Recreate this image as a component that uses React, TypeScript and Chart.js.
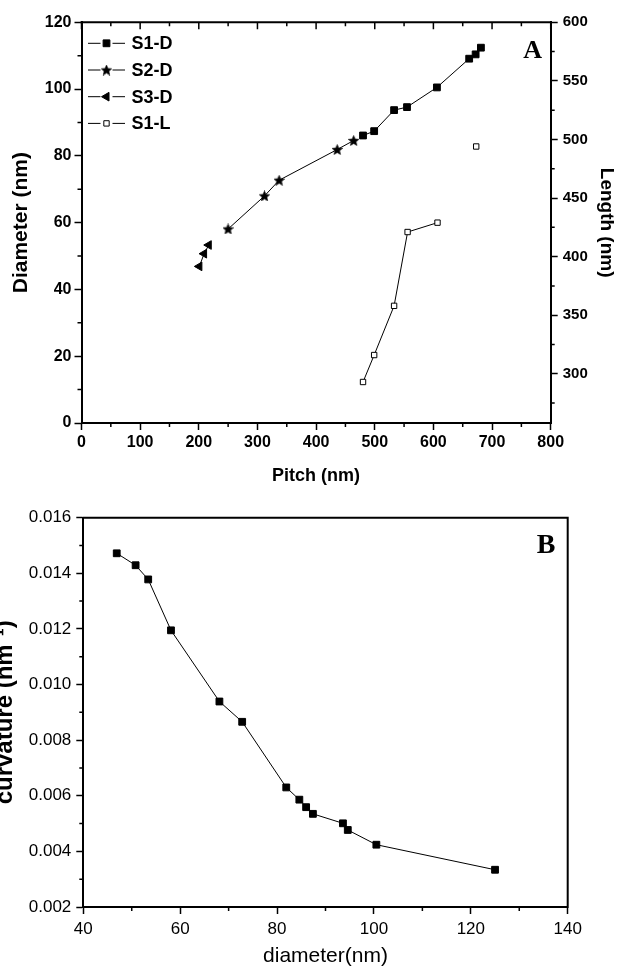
import React, { useEffect, useRef } from 'react';
import { Chart, registerables } from 'chart.js';
import { drawPoint } from 'chart.js/helpers';

Chart.register(...registerables);

const SANS = "'Liberation Sans', Arial, Helvetica, sans-serif";
const SERIF = "'Liberation Serif', 'Times New Roman', serif";

// ---------- Panel A ----------
const pitchS1D = [480, 499, 533, 555, 606, 661, 672, 681];
const diameterS1D = [86.1, 87.4, 93.7, 94.6, 100.5, 109.1, 110.4, 112.4];
const pitchS2D = [250, 312, 337, 436, 464];
const diameterS2D = [58.1, 68.0, 72.7, 81.9, 84.6];
const pitchS3D = [201, 209, 217];
const diameterS3D = [46.9, 50.7, 53.3];
const pitchS1L = [480, 499, 533, 556, 607, 673];
const lengthS1L = [293, 316, 358, 421, 429, 494];

const pitchTicks = [0, 100, 200, 300, 400, 500, 600, 700, 800];
const pitchMinorTicks = [50, 150, 250, 350, 450, 550, 650, 750];
const diameterTicks = [0, 20, 40, 60, 80, 100, 120];
const diameterMinorTicks = [10, 30, 50, 70, 90, 110];
const lengthTicks = [300, 350, 400, 450, 500, 550, 600];
const lengthMinorTicks = [275, 325, 375, 425, 475, 525, 575];

// ---------- Panel B ----------
const diameterB = [46.9, 50.8, 53.4, 58.1, 68.1, 72.8, 81.9, 84.6, 86.0, 87.4, 93.6, 94.6, 100.5, 125.0];
const curvatureB = [0.01472, 0.01429, 0.01378, 0.01195, 0.00939, 0.00866, 0.0063, 0.00586, 0.00559, 0.00535, 0.00501, 0.00477, 0.00424, 0.00334];
const diameterBTicks = [40, 60, 80, 100, 120, 140];
const diameterBMinorTicks = [50, 70, 90, 110, 130];
const curvatureTicks = [0.002, 0.004, 0.006, 0.008, 0.010, 0.012, 0.014, 0.016];
const curvatureMinorTicks = [0.003, 0.005, 0.007, 0.009, 0.011, 0.013, 0.015];

const toPoints = (xs: number[], ys: number[]) => xs.map((x, i) => ({ x, y: ys[i] }));

function makeStar(size: number) {
  const c = document.createElement('canvas');
  c.width = size;
  c.height = size;
  const g = c.getContext('2d')!;
  const cx = size / 2, cy = size / 2 + 0.5, R = size / 2, r = R * 0.45;
  g.beginPath();
  for (let k = 0; k < 10; k++) {
    const ang = -Math.PI / 2 + (k * Math.PI) / 5;
    const rad = k % 2 === 0 ? R : r;
    const px = cx + rad * Math.cos(ang), py = cy + rad * Math.sin(ang);
    if (k === 0) g.moveTo(px, py); else g.lineTo(px, py);
  }
  g.closePath();
  g.fillStyle = '#000';
  g.fill();
  g.strokeStyle = '#000';
  g.lineWidth = 0.6;
  g.stroke();
  return c;
}

type Mark = { scale: string; values: number[]; edge: 'left' | 'right' | 'top' | 'bottom'; len: number };
type DecorCfg = {
  frameTop?: boolean;
  frameRight?: boolean;
  marks: Mark[];
  label?: { text: string; font: string; dx: number; dy: number };
  legend?: boolean;
};

function makeDecor(cfg: DecorCfg) {
  return {
    id: 'decor',
    afterDatasetsDraw(chart: any) {
      const { ctx, chartArea: a, scales } = chart;
      ctx.save();
      ctx.strokeStyle = '#000';
      ctx.lineWidth = 2;
      ctx.beginPath();
      if (cfg.frameTop) { ctx.moveTo(a.left - 1, a.top); ctx.lineTo(a.right + 1, a.top); }
      if (cfg.frameRight) { ctx.moveTo(a.right, a.top - 1); ctx.lineTo(a.right, a.bottom + 1); }
      ctx.stroke();
      ctx.lineWidth = 1.5;
      for (const m of cfg.marks) {
        const s = scales[m.scale];
        ctx.beginPath();
        for (const v of m.values) {
          const p = s.getPixelForValue(v);
          if (m.edge === 'left') { ctx.moveTo(a.left, p); ctx.lineTo(a.left - m.len, p); }
          else if (m.edge === 'right') { ctx.moveTo(a.right, p); ctx.lineTo(a.right + m.len, p); }
          else if (m.edge === 'bottom') { ctx.moveTo(p, a.bottom); ctx.lineTo(p, a.bottom + m.len); }
          else { ctx.moveTo(p, a.top); ctx.lineTo(p, a.top + m.len); }
        }
        ctx.stroke();
      }
      if (cfg.label) {
        ctx.fillStyle = '#000';
        ctx.font = cfg.label.font;
        ctx.textAlign = 'center';
        ctx.textBaseline = 'middle';
        ctx.fillText(cfg.label.text, a.right - cfg.label.dx, a.top + cfg.label.dy);
      }
      if (cfg.legend) {
        chart.data.datasets.forEach((ds: any, i: number) => {
          const y = a.top + 21 + i * 26.7;
          const x0 = a.left + 6.5, xm = a.left + 25, x1 = a.left + 43.5;
          ctx.strokeStyle = '#000';
          ctx.lineWidth = 1;
          ctx.beginPath();
          ctx.moveTo(x0, y); ctx.lineTo(xm - 6, y);
          ctx.moveTo(xm + 6, y); ctx.lineTo(x1, y);
          ctx.stroke();
          ctx.fillStyle = ds.pointBackgroundColor ?? '#000';
          ctx.strokeStyle = '#000';
          ctx.lineWidth = ds.pointBorderWidth ?? 1;
          drawPoint(ctx, {
            pointStyle: ds.pointStyle,
            radius: ds.pointRadius,
            rotation: ds.pointRotation ?? 0,
            borderWidth: ds.pointBorderWidth ?? 1,
          } as any, xm, y);
          ctx.fillStyle = '#000';
          ctx.font = `bold 18px ${SANS}`;
          ctx.textAlign = 'left';
          ctx.textBaseline = 'middle';
          ctx.fillText(ds.label, a.left + 50, y + 1);
        });
      }
      ctx.restore();
    },
  };
}

const tickList = (vals: number[]) => (s: any) => { s.ticks = vals.map((v) => ({ value: v })); };

export default function App() {
  const refA = useRef<HTMLCanvasElement>(null);
  const refB = useRef<HTMLCanvasElement>(null);

  useEffect(() => {
    const star = makeStar(11);
    const boldTick = { family: SANS, size: 16, weight: 'bold' as const };
    const axisGrid = { drawOnChartArea: false, tickLength: 7, tickWidth: 1.5, tickColor: '#000' };
    const axisBorder = { color: '#000', width: 2 };

    const chartA = new Chart(refA.current!, {
      type: 'scatter',
      data: {
        datasets: [
          {
            label: 'S1-D', data: toPoints(pitchS1D, diameterS1D), yAxisID: 'y', showLine: true,
            borderColor: '#000', borderWidth: 1, pointStyle: 'rect', pointRadius: 4.8,
            pointBackgroundColor: '#000', pointBorderColor: '#000', pointBorderWidth: 1,
          },
          {
            label: 'S2-D', data: toPoints(pitchS2D, diameterS2D), yAxisID: 'y', showLine: true,
            borderColor: '#000', borderWidth: 1, pointStyle: star as any, pointRadius: 5,
            pointBackgroundColor: '#000', pointBorderColor: '#000', pointBorderWidth: 1,
          },
          {
            label: 'S3-D', data: toPoints(pitchS3D, diameterS3D), yAxisID: 'y', showLine: true,
            borderColor: '#000', borderWidth: 1, pointStyle: 'triangle', pointRotation: -90, pointRadius: 5,
            pointBackgroundColor: '#000', pointBorderColor: '#000', pointBorderWidth: 1,
          },
          {
            label: 'S1-L', data: toPoints(pitchS1L, lengthS1L), yAxisID: 'y2', showLine: true,
            borderColor: '#000', borderWidth: 1, pointStyle: 'rect', pointRadius: 3.8,
            pointBackgroundColor: '#fff', pointBorderColor: '#000', pointBorderWidth: 1,
            segment: {
              borderColor: (c: any) => (c.p1DataIndex === lengthS1L.length - 1 ? 'rgba(0,0,0,0)' : '#000'),
            },
          },
        ] as any,
      },
      options: {
        animation: false,
        responsive: false,
        events: [],
        layout: { padding: { top: 22.3, left: 0, right: 0, bottom: 0 } },
        plugins: { legend: { display: false }, tooltip: { enabled: false } },
        scales: {
          x: {
            type: 'linear', position: 'bottom', min: 0, max: 800,
            afterBuildTicks: tickList(pitchTicks),
            afterFit: (s: any) => { s.height = 67; },
            ticks: { font: boldTick, color: '#000', padding: 3, maxRotation: 0, autoSkip: false },
            grid: axisGrid, border: axisBorder,
            title: { display: true, text: 'Pitch (nm)', color: '#000', font: { family: SANS, size: 18, weight: 'bold' }, padding: { top: 0, bottom: 3 } },
          },
          y: {
            type: 'linear', position: 'left', min: 0, max: 120,
            afterBuildTicks: tickList(diameterTicks),
            afterFit: (s: any) => { s.width = 81.5; },
            ticks: { font: boldTick, color: '#000', padding: 3, autoSkip: false },
            grid: axisGrid, border: axisBorder,
            title: { display: true, text: 'Diameter (nm)', color: '#000', font: { family: SANS, size: 21, weight: 'bold' }, padding: { top: 9, bottom: 0 } },
          },
          y2: {
            type: 'linear', position: 'right', min: 258, max: 600,
            afterBuildTicks: tickList(lengthTicks),
            afterFit: (s: any) => { s.width = 67.3; },
            ticks: { font: { family: SANS, size: 15, weight: 'bold' }, color: '#000', padding: 5, autoSkip: false },
            grid: axisGrid, border: axisBorder,
            title: { display: true, text: 'Length (nm)', color: '#000', font: { family: SANS, size: 19, weight: 'bold' }, padding: { top: 0, bottom: 0 } },
          },
        },
      } as any,
      plugins: [
        makeDecor({
          frameTop: true,
          marks: [
            { scale: 'x', values: pitchMinorTicks, edge: 'bottom', len: 4 },
            { scale: 'x', values: pitchTicks, edge: 'top', len: 7 },
            { scale: 'x', values: pitchMinorTicks, edge: 'top', len: 4 },
            { scale: 'y', values: diameterMinorTicks, edge: 'left', len: 4 },
            { scale: 'y2', values: lengthMinorTicks, edge: 'right', len: 4 },
          ],
          label: { text: 'A', font: `bold 26px ${SERIF}`, dx: 18, dy: 29 },
          legend: true,
        }) as any,
      ],
    });

    const regTick = { family: SANS, size: 17 };
    const chartB = new Chart(refB.current!, {
      type: 'scatter',
      data: {
        datasets: [
          {
            label: 'curvature', data: toPoints(diameterB, curvatureB), showLine: true,
            borderColor: '#000', borderWidth: 1, pointStyle: 'rect', pointRadius: 4.8,
            pointBackgroundColor: '#000', pointBorderColor: '#000', pointBorderWidth: 1,
          },
        ] as any,
      },
      options: {
        animation: false,
        responsive: false,
        events: [],
        layout: { padding: { top: 27.7, left: 0, right: 50.3, bottom: 0 } },
        plugins: { legend: { display: false }, tooltip: { enabled: false } },
        scales: {
          x: {
            type: 'linear', position: 'bottom', min: 40, max: 140,
            afterBuildTicks: tickList(diameterBTicks),
            afterFit: (s: any) => { s.height = 68; },
            ticks: { font: regTick, color: '#000', padding: 5, maxRotation: 0, autoSkip: false },
            grid: axisGrid, border: axisBorder,
            title: { display: true, text: 'diameter(nm)', color: '#000', font: { family: SANS, size: 21 }, padding: { top: 0, bottom: 6 } },
          },
          y: {
            type: 'linear', position: 'left', min: 0.002, max: 0.016,
            afterBuildTicks: tickList(curvatureTicks),
            afterFit: (s: any) => { s.width = 96.3; },
            ticks: { font: regTick, color: '#000', padding: 5, autoSkip: false, callback: (v: any) => Number(v).toFixed(3) },
            grid: axisGrid, border: axisBorder,
            title: { display: true, text: 'curvature (nm\u207B\u00B9)', color: '#000', font: { family: SANS, size: 24, weight: 'bold' }, padding: { top: 4, bottom: 0 } },
          },
        },
      } as any,
      plugins: [
        makeDecor({
          frameTop: true,
          frameRight: true,
          marks: [
            { scale: 'x', values: diameterBMinorTicks, edge: 'bottom', len: 4 },
            { scale: 'y', values: curvatureMinorTicks, edge: 'left', len: 4 },
          ],
          label: { text: 'B', font: `bold 28px ${SERIF}`, dx: 21.7, dy: 28.3 },
        }) as any,
      ],
    });

    return () => {
      chartA.destroy();
      chartB.destroy();
    };
  }, []);

  return (
    <div style={{ position: 'absolute', left: 0, top: 0, width: 618, height: 975, background: '#fff', overflow: 'hidden' }}>
      <canvas ref={refA} width={618} height={490} style={{ position: 'absolute', left: 0, top: 0, width: 618, height: 490 }} />
      <canvas ref={refB} width={631} height={485} style={{ position: 'absolute', left: -13, top: 490, width: 631, height: 485 }} />
    </div>
  );
}
